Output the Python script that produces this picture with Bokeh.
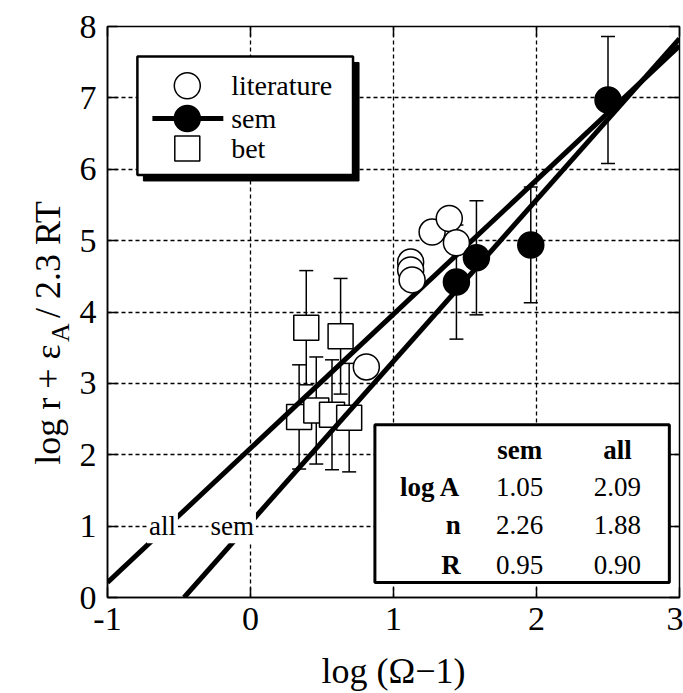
import numpy as np
from bokeh.plotting import figure
from bokeh.layouts import row
from bokeh.models import Range1d, FixedTicker, Label, LinearAxis
from bokeh.embed import file_html
from bokeh.resources import INLINE
from bokeh.core.properties import value

# ---- data ----
lit_x = [1.12, 1.12, 1.13, 1.27, 1.39, 1.44, 0.81]
lit_y = [4.70, 4.59, 4.45, 5.12, 5.31, 4.97, 3.23]

sem_x = [1.44, 1.58, 1.96, 2.50]
sem_y = [4.42, 4.76, 4.94, 6.97]
sem_err = [0.80, 0.80, 0.81, 0.89]

bet_x = [0.39, 0.63, 0.34, 0.46, 0.57, 0.69]
bet_y = [3.78, 3.66, 2.53, 2.62, 2.56, 2.52]
bet_err = [0.80, 0.81, 0.73, 0.75, 0.77, 0.76]

fit_names = ["sem", "all"]
fit_logA = [1.05, 2.09]
fit_n = [2.26, 1.88]
fit_R = [0.95, 0.90]
row_labels = ["log A", "n", "R"]

x_ticks = [-1, 0, 1, 2, 3]
y_ticks = [0, 1, 2, 3, 4, 5, 6, 7, 8]

legend_labels = ["literature", "sem", "bet"]

FONT = "Liberation Serif"
LAB_W = 74
H = 693
FR_TOP, FR_BOT = 26, 598

p = figure(width=683 - LAB_W, height=H, x_range=Range1d(-1, 3), y_range=Range1d(0, 8),
           output_backend="svg", toolbar_location=None,
           min_border_left=107 - LAB_W, min_border_right=4,
           min_border_top=FR_TOP, min_border_bottom=H - FR_BOT)
p.background_fill_color = "white"
p.border_fill_color = "white"
p.outline_line_color = "black"
p.outline_line_width = 1.5

for ax, ticks in ((p.xaxis, x_ticks), (p.yaxis, y_ticks)):
    ax.ticker = FixedTicker(ticks=ticks)
    ax.major_label_text_font = FONT
    ax.major_label_text_font_size = "34px"
    ax.major_label_text_color = "black"
    ax.major_tick_in = 10
    ax.major_tick_out = 0
    ax.major_tick_line_width = 1.5
    ax.minor_tick_line_color = None
    ax.axis_line_width = 1.5
    ax.axis_line_color = "black"
    ax.major_tick_line_color = "black"
p.xaxis.major_label_standoff = 10
p.yaxis.major_label_standoff = 11
p.xaxis.major_label_overrides = {-1: "-1"}
p.xaxis.axis_label = "log (Ω−1)"
p.xaxis.axis_label_text_font = FONT
p.xaxis.axis_label_text_font_size = "36px"
p.xaxis.axis_label_text_font_style = "normal"
p.xaxis.axis_label_text_color = "black"
p.xaxis.axis_label_standoff = 18

for loc, ticks in (("right", y_ticks), ("above", x_ticks)):
    ax = LinearAxis(ticker=FixedTicker(ticks=ticks), major_label_text_font_size="0px",
                    major_label_standoff=0, axis_line_color=None, major_tick_in=10,
                    major_tick_out=0, major_tick_line_width=1.5, minor_tick_line_color=None)
    p.add_layout(ax, loc)

p.xgrid.ticker = FixedTicker(ticks=x_ticks)
p.ygrid.ticker = FixedTicker(ticks=y_ticks)
for g in (p.xgrid, p.ygrid):
    g.grid_line_color = "black"
    g.grid_line_dash = "4 3"
    g.grid_line_width = 1.3

# ---- error bars ----
def errbars(xs, ys, es):
    lo = [y - e for y, e in zip(ys, es)]
    hi = [y + e for y, e in zip(ys, es)]
    p.segment(x0=xs, y0=lo, x1=xs, y1=hi, line_color="black", line_width=1.5)
    p.scatter(xs + xs, lo + hi, marker="dash", size=14, line_color="black", line_width=1.5)

errbars(bet_x, bet_y, bet_err)
errbars(sem_x, sem_y, sem_err)

# ---- bet squares ----
p.scatter(bet_x, bet_y, marker="square", size=25, fill_color="white", line_color="black", line_width=1.5)

# ---- fit lines ----
for name, a, n in zip(fit_names, fit_logA, fit_n):
    x0 = max(-1.0, -a / n)
    xs = [x0, 3]
    ys = [a + n * xx for xx in xs]
    p.line(xs, ys, line_color="black", line_width=5)

# ---- circles ----
p.scatter(lit_x, lit_y, marker="circle", size=26, fill_color="white", line_color="black", line_width=1.5)
p.scatter(sem_x, sem_y, marker="circle", size=26, fill_color="black", line_color="black", line_width=1.5)

# ---- line labels ----
for txt, lx in (("all", -0.616), ("sem", -0.128)):
    p.add_layout(Label(x=lx, y=1.0, text=txt, text_font=FONT, text_font_size="27px",
                       text_color="black", text_align="center", text_baseline="middle",
                       background_fill_color="white", padding=2))

# ---- legend (manual, with shadow) ----
lx0, lx1, ly0, ly1 = -0.791, 0.717, 5.92, 7.58
p.quad(left=[lx0 + 0.042], right=[lx1 + 0.042], bottom=[ly0 - 0.084], top=[ly1 - 0.084],
       fill_color="black", line_color="black")
p.quad(left=[lx0], right=[lx1], bottom=[ly0], top=[ly1],
       fill_color="white", line_color="black", line_width=2.5)
leg_y = [7.17, 6.71, 6.29]
p.line([-0.686, -0.19], [leg_y[1], leg_y[1]], line_color="black", line_width=5)
p.scatter([-0.442], [leg_y[0]], marker="circle", size=26, fill_color="white", line_color="black", line_width=1.5)
p.scatter([-0.442], [leg_y[1]], marker="circle", size=26, fill_color="black", line_color="black", line_width=1.5)
p.scatter([-0.442], [leg_y[2]], marker="square", size=25, fill_color="white", line_color="black", line_width=1.5)
p.text([-0.135] * 3, leg_y, text=legend_labels, text_font=value(FONT), text_font_size="28px",
       text_align="left", text_baseline="middle", text_color="black")

# ---- table ----
p.quad(left=[0.870], right=[2.929], bottom=[0.21], top=[2.42],
       fill_color="white", line_color="black", line_width=3)
col_x = [1.882, 2.566]
row_y = [1.55, 1.01, 0.46]
p.text(col_x, [2.07, 2.07], text=fit_names, text_font=value(FONT), text_font_size="27px",
       text_font_style="bold", text_align="center", text_baseline="middle", text_color="black")
p.text([1.470] * 3, row_y, text=row_labels, text_font=value(FONT), text_font_size="27px",
       text_font_style="bold", text_align="right", text_baseline="middle", text_color="black")
rows = [fit_logA, fit_n, fit_R]
vals, vx, vy = [], [], []
for ry, r in zip(row_y, rows):
    for cx, v in zip(col_x, r):
        vals.append(f"{v:.2f}")
        vx.append(cx)
        vy.append(ry)
p.text(vx, vy, text=vals, text_font=value(FONT), text_font_size="27px",
       text_align="center", text_baseline="middle", text_color="black")

# ---- y-axis title in a narrow side panel (its frame is aligned with the main frame;
#      y values are H - pixel row) ----
lab = figure(width=LAB_W, height=H, x_range=Range1d(0, LAB_W), y_range=Range1d(H - FR_BOT, H - FR_TOP),
             output_backend="svg", toolbar_location=None, title=None,
             x_axis_location=None, y_axis_location=None,
             min_border_left=0, min_border_right=0,
             min_border_top=FR_TOP, min_border_bottom=H - FR_BOT)
lab.outline_line_color = None
lab.xgrid.visible = False
lab.ygrid.visible = False
lab.background_fill_color = "white"
lab.border_fill_color = "white"
lab.text([47], [H - 465], text=["log r + ε"], text_font=value(FONT), text_font_size="36px",
         angle=np.pi / 2, text_align="left", text_baseline="alphabetic", text_color="black")
lab.text([60], [H - 342], text=["A"], text_font=value(FONT), text_font_size="26px",
         angle=np.pi / 2, text_align="left", text_baseline="alphabetic", text_color="black")
lab.text([47], [H - 318], text=["/ 2.3 RT"], text_font=value(FONT), text_font_size="36px",
         angle=np.pi / 2, text_align="left", text_baseline="alphabetic", text_color="black")

layout = row(lab, p)
open("out.html", "w").write(file_html(layout, INLINE))
